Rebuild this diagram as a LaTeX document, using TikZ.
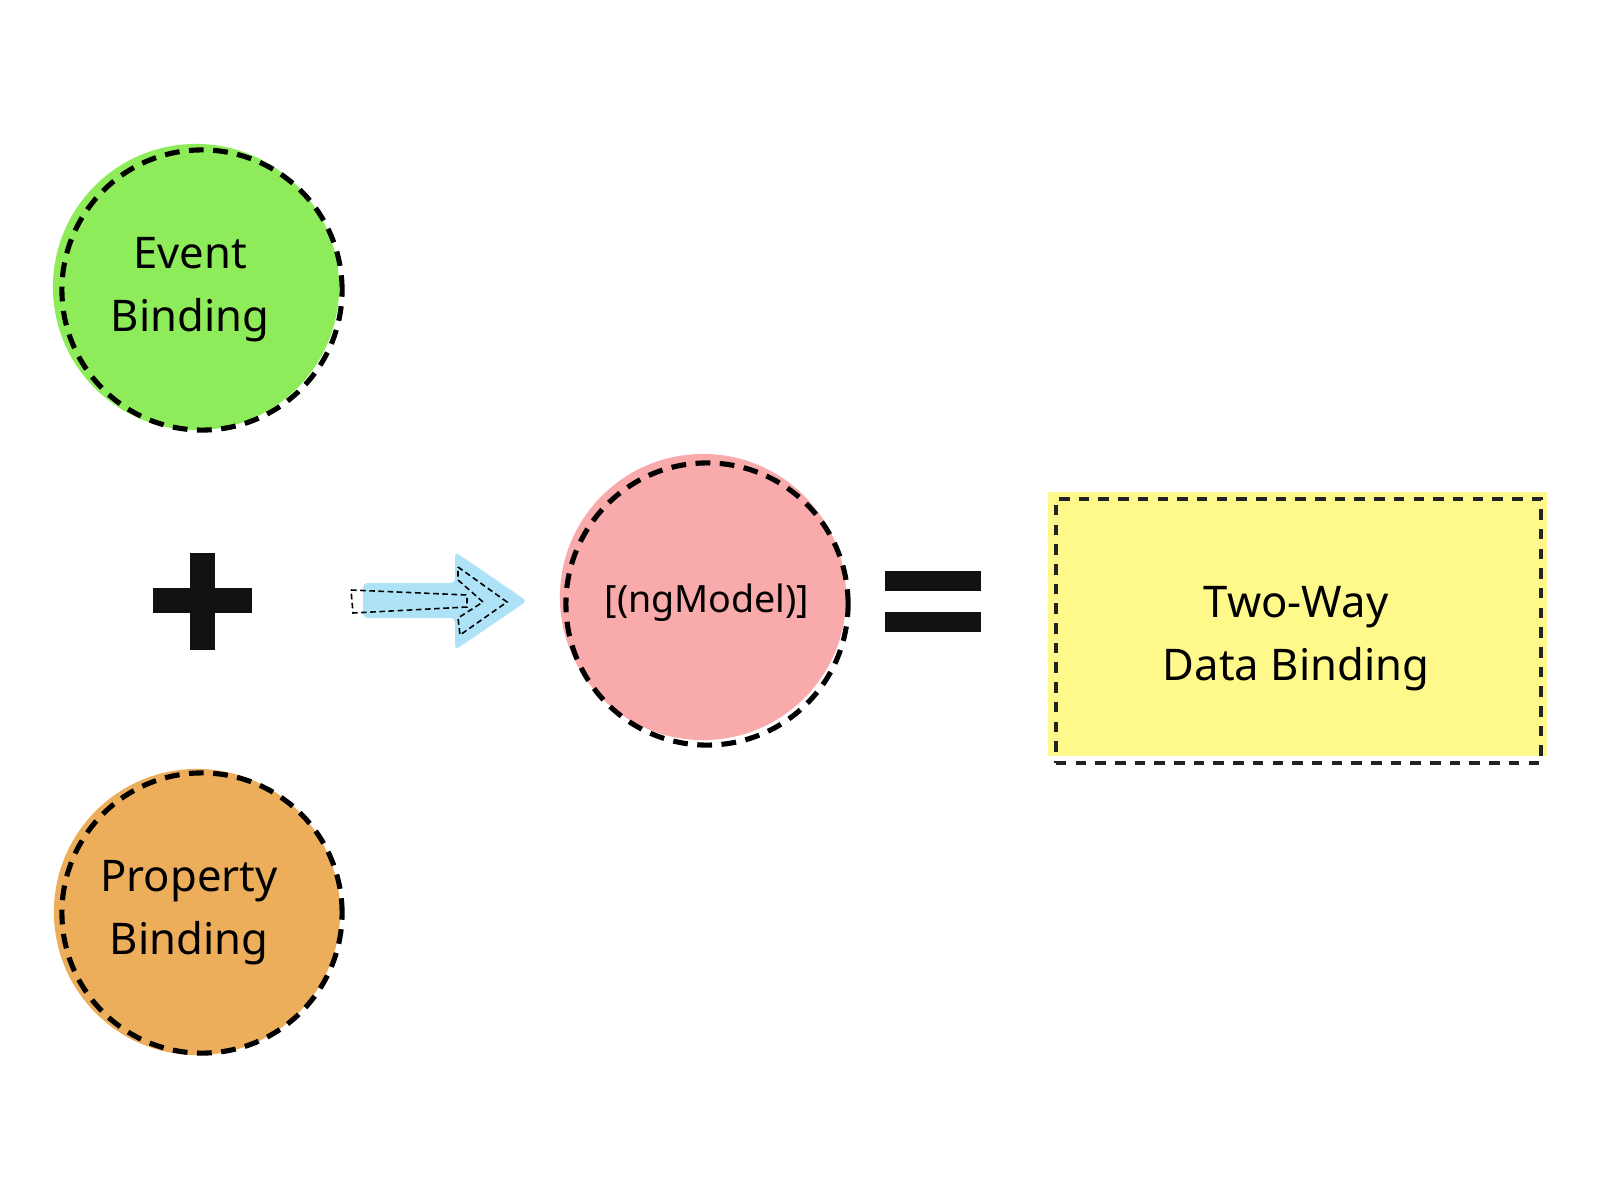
\documentclass[tikz,border=0pt]{standalone}
\usepackage{fontspec}
\setmainfont{Noto Sans}
\usetikzlibrary{positioning}

\definecolor{eventgreen}{HTML}{8EEC5A}
\definecolor{proporange}{HTML}{EDAE5C}
\definecolor{modelpink}{HTML}{F9AAAA}
\definecolor{resultyellow}{HTML}{FFF98B}
\definecolor{arrowblue}{HTML}{ADE2F7}
\definecolor{signblack}{HTML}{12110F}
\definecolor{edgegray}{HTML}{222222}

\begin{document}
\begin{tikzpicture}[x=0.01cm, y=-0.01cm,
  bubble/.style={circle, minimum size=2.86cm, inner sep=0pt},
  ring/.style={circle, draw=black, line width=1.45pt, dash pattern=on 4.2pt off 2.7pt,
    minimum size=2.8cm, inner sep=0pt},
  caption/.style={align=center, font=\fontsize{12.4}{18}\selectfont},
  sign/.style={fill=signblack, inner sep=0pt}]
\useasboundingbox (0,0) rectangle (1600,1200);

% Event binding (top)
\node[bubble, fill=eventgreen] (event) at (196,287) {};
\node[ring] (eventring) at (202,290) {};
\node[caption] (eventtxt) at (190,290) {Event\\Binding};

% Property binding (bottom)
\node[bubble, fill=proporange] (prop) at (197,912) {};
\node[ring] (propring) at (202,913) {};
\node[caption] (proptxt) at (189,913) {Property\\Binding};

% Plus sign
\node[sign, minimum width=0.25cm, minimum height=0.97cm] (plusv) at (202.5,601.5) {};
\node[sign, minimum width=0.99cm, minimum height=0.25cm] (plush) at (202.5,600.5) {};

% Blue arrow with dashed outline
\fill[arrowblue, rounded corners=1.2pt] (363,583) -- (455,583) -- (455,552) -- (527,601)
  -- (455,650) -- (455,618) -- (363,618) -- cycle;
\draw[black, line width=0.45pt, dash pattern=on 1.6pt off 1pt]
  (351,590) -- (467,595) -- (467,607) -- (353,613) -- cycle;
\draw[black, line width=0.45pt, dash pattern=on 1.6pt off 1pt]
  (458,567) -- (507,602) -- (460,635) -- (458,618) -- (483,602) -- (458,580) -- cycle;

% ngModel
\node[bubble, fill=modelpink] (model) at (703,597) {};
\node[ring, minimum size=2.82cm] (modelring) at (707,604) {};
\node[caption, font=\fontsize{10.7}{14}\selectfont] (modeltxt) at (707,603) {[(ngModel)]};

% Equals sign
\node[sign, minimum width=0.96cm, minimum height=0.2cm] (eqtop) at (933,581) {};
\node[sign, minimum width=0.96cm, minimum height=0.2cm, below=0.2cm of eqtop] (eqbot) {};

% Result box
\node[fill=resultyellow, minimum width=4.99cm, minimum height=2.64cm, inner sep=0pt]
  (result) at (1297.5,624) {};
\node[draw=edgegray, line width=1.05pt, dash pattern=on 3pt off 2.6pt,
  minimum width=4.85cm, minimum height=2.64cm, inner sep=0pt] (resultbox) at (1298.5,631) {};
\node[caption] (resulttxt) at (1296,639) {Two-Way\\Data Binding};
\end{tikzpicture}
\end{document}
